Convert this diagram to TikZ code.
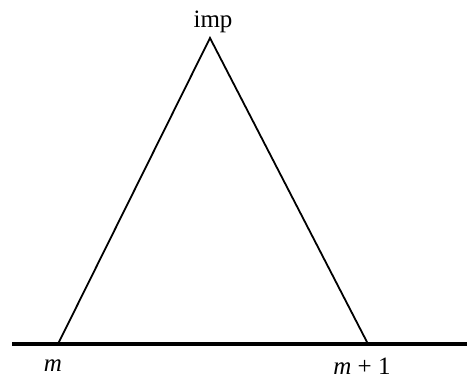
\documentclass[tikz,border=0pt]{standalone}
\usepackage{fontspec}
\setmainfont{Liberation Serif}
\usetikzlibrary{positioning}

\begin{document}
\begin{tikzpicture}[x=1pt,y=1pt,font=\fontsize{25}{29}\selectfont,
  lbl/.style={inner sep=0pt}]
  \useasboundingbox (0,0) rectangle (468,381);
  % base line and triangle
  \coordinate (west) at (12,37);
  \coordinate (east) at (467,37);
  \coordinate (lo) at (58,37);
  \coordinate (hi) at (368,37);
  \coordinate (top) at (210,343);
  \draw[line width=3.2pt] (west) -- (east);
  \draw[line width=1.8pt,line join=miter] (lo) -- (top) -- (hi);

  \node[lbl] (imp) at (213,359) {imp};
  \node[lbl] (mlo) at (53,15) {\textit{m}};
  \node[lbl] (mhi) at (362,15) {\textit{m} + 1};
\end{tikzpicture}
\end{document}
